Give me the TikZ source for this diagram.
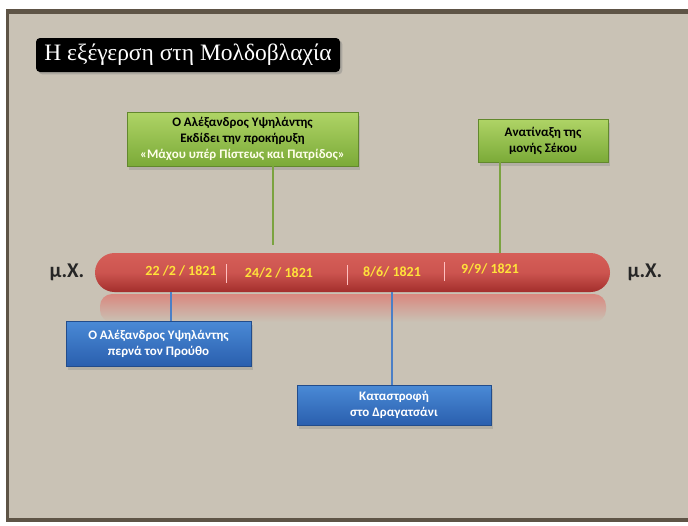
\documentclass[tikz,border=0pt]{standalone}
\usepackage{fontspec}
\setmainfont{Carlito}
\newfontfamily\titlefont{Liberation Serif}
\usetikzlibrary{positioning,shadows}
\definecolor{paper}{HTML}{C9C2B5}
\definecolor{frame}{HTML}{5E5446}
\definecolor{grntop}{HTML}{AFD466}
\definecolor{grnbot}{HTML}{7BAA38}
\definecolor{grnline}{HTML}{7BA340}
\definecolor{blutop}{HTML}{4A8AD6}
\definecolor{blubot}{HTML}{2A5FAE}
\definecolor{bluline}{HTML}{4B7FC6}
\definecolor{bartop}{HTML}{D65E58}
\definecolor{barbot}{HTML}{A32E2C}
\definecolor{dateyel}{HTML}{FFE23A}
\newcommand\boxfont{\bfseries\fontsize{13}{16}\selectfont}
\newcommand\datefont{\bfseries\fontsize{14}{15}\selectfont}

\begin{document}
\begin{tikzpicture}[x=1pt,y=-1pt,
    gbox/.style={draw=grnbot!80!black,top color=grntop,bottom color=grnbot,
      text=black,font=\boxfont,align=center,inner sep=0pt,
      drop shadow={opacity=0.3,shadow yshift=-4pt}},
    bbox/.style={draw=blubot!80!black,top color=blutop,bottom color=blubot,
      text=white,font=\boxfont,align=center,inner sep=0pt,
      drop shadow={opacity=0.3,shadow yshift=-4pt}},
    gline/.style={grnline,line width=2pt},
    bline/.style={bluline,line width=2pt},
    sep/.style={white!75!red,line width=0.6pt},
    date/.style={text=dateyel,font=\datefont},
    mx/.style={text=black!85,font=\bfseries\fontsize{21}{22}\selectfont}
  ]
    \useasboundingbox (0,0) rectangle (688,525);
    \fill[white] (0,0) rectangle (688,525);
    \fill[frame] (6,9) rectangle (688,522);
    \fill[paper] (9,14) rectangle (688,518);

    \node[fill=black,rounded corners=4pt,text=white,minimum width=304pt,
      minimum height=34pt,inner sep=0pt,drop shadow={opacity=0.4},
      font=\titlefont\fontsize{23.5}{25}\selectfont] (title) at (188,55)
      {Η εξέγερση στη Μολδοβλαχία};

    \shade[top color=red!30!paper,bottom color=paper,rounded corners=12pt]
      (100,294) rectangle (606,322);
    \shade[top color=bartop,bottom color=barbot,middle color=bartop!80!barbot,
      rounded corners=19.5pt] (95,253) rectangle (610,292);
    \node[inner sep=0pt] (bar) at (352.5,272.5) {};

    \node[mx] (mxL) at (67,272) {μ.Χ.};
    \node[mx] (mxR) at (645,272) {μ.Χ.};

    \node[date] (d1) at (181,271) {22 /2 / 1821};
    \node[date] (d2) at (279,273) {24/2 / 1821};
    \node[date] (d3) at (392,272) {8/6/ 1821};
    \node[date] (d4) at (490,269) {9/9/ 1821};
    \draw[sep] (226,264) -- (226,283);
    \draw[sep] (347,265) -- (347,285);
    \draw[sep] (444,262) -- (444,281);

    \node[gbox,minimum width=231pt,minimum height=54pt] (gA) at (242.5,139)
      {Ο Αλέξανδρος Υψηλάντης\\ Εκδίδει την προκήρυξη\\
       \textcolor{white!92!yellow}{«Μάχου υπέρ Πίστεως και Πατρίδος»}};
    \node[gbox,minimum width=130pt,minimum height=43pt] (gB) at (543,140.5)
      {Ανατίναξη της\\ μονής Σέκου};
    \node[bbox,minimum width=185pt,minimum height=45pt] (bA) at (158.5,343.5)
      {Ο Αλέξανδρος Υψηλάντης\\ περνά τον Προύθο};
    \node[bbox,minimum width=194pt,minimum height=40pt] (bB) at (394,405)
      {Καταστροφή\\ στο Δραγατσάνι};

    \coordinate (cA) at (273,245);
    \coordinate (cB) at (500,253);
    \coordinate (cC) at (171,292);
    \coordinate (cD) at (392,292);

    \draw[gline] (gA.south -| cA) -- (cA);
    \draw[gline] (gB.south -| cB) -- (cB);
    \draw[bline] (cC) -- (cC |- bA.north);
    \draw[bline] (cD) -- (cD |- bB.north);
  \end{tikzpicture}
\end{document}
